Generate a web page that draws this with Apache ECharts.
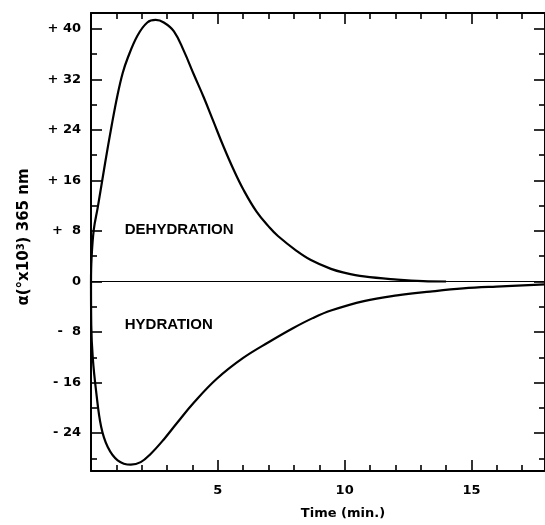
<!DOCTYPE html>
<html>
<head>
<meta charset="utf-8">
<script src="https://cdn.jsdelivr.net/npm/echarts@6/dist/echarts.min.js"></script>
<style>html,body{margin:0;padding:0;background:#fff}#c{width:545px;height:525px}</style>
</head>
<body>
<div id="c"></div>
<script>
// Dehydration curve (time in min, alpha x10^3)
var dehydT = [0, 0.02, 0.11, 0.27, 0.55, 0.82, 1.05, 1.25, 1.44, 1.83, 2.22, 2.55, 2.87, 3.27, 3.66, 4.05, 4.44, 4.83, 5.22, 5.61, 6.0, 6.52, 7.05, 7.37, 8.09, 8.67, 9.46, 9.98, 10.76, 12.07, 13.1, 14.0];
var dehydY = [0, 3.5, 8.2, 11.8, 18.6, 24.8, 29.6, 33.0, 35.3, 38.9, 41.0, 41.4, 41.0, 39.6, 36.5, 32.8, 29.2, 25.3, 21.4, 17.8, 14.6, 11.1, 8.5, 7.2, 4.9, 3.4, 2.0, 1.4, 0.8, 0.3, 0.05, 0];
// Hydration curve
var hydT = [0, 0.01, 0.07, 0.2, 0.4, 0.66, 1.05, 1.57, 1.96, 2.35, 2.87, 3.39, 4.05, 4.96, 6.0, 7.05, 7.96, 8.74, 9.46, 10.76, 12.07, 13.37, 14.67, 15.98, 17.9];
var hydY = [0, -6.9, -12.1, -17.3, -23.0, -26.2, -28.3, -29.0, -28.6, -27.3, -25.0, -22.4, -19.2, -15.4, -12.1, -9.5, -7.4, -5.8, -4.6, -3.1, -2.2, -1.6, -1.1, -0.8, -0.45];
// Axis ticks and labels
var xMajor = [5, 10, 15];
var xMinor = [1, 2, 3, 4, 6, 7, 8, 9, 11, 12, 13, 14, 16, 17];
var yMajor = [-24, -16, -8, 0, 8, 16, 24, 32, 40];
var yMajorLabels = ['- 24', '- 16', '-  8', '0', '+  8', '+ 16', '+ 24', '+ 32', '+ 40'];
var yMinor = [-28, -20, -12, -4, 4, 12, 20, 28, 36];
// Annotations
var annoText = ['DEHYDRATION', 'HYDRATION'];
var annoT = [1.33, 1.33];
var annoY = [8.2, -6.85];

function zip(a, b) { return a.map(function (v, i) { return [v, b[i]]; }); }

var X_MIN = 0, X_MAX = 17.9, Y_MIN = -30, Y_MAX = 42.5;
var black = '#000';
var FONT = 'DejaVu Sans';

function xAx(pos, vals, len, line, labels) {
  return {
    type: 'value', position: pos, min: X_MIN, max: X_MAX,
    axisLine: { show: line, onZero: false, lineStyle: { color: black, width: 2 } },
    axisTick: { show: true, inside: true, length: len, customValues: vals, lineStyle: { color: black, width: 1.6 } },
    axisLabel: labels ? { show: true, customValues: xMajor, margin: 13, color: black, fontFamily: FONT, fontWeight: 'bold', fontSize: 13 } : { show: false },
    splitLine: { show: false }
  };
}
function yAx(pos, vals, len, line, labels) {
  return {
    type: 'value', position: pos, min: Y_MIN, max: Y_MAX,
    axisLine: { show: line, onZero: false, lineStyle: { color: black, width: 2 } },
    axisTick: { show: true, inside: true, length: len, customValues: vals, lineStyle: { color: black, width: 1.6 } },
    axisLabel: labels ? {
      show: true, customValues: yMajor, margin: 10, color: black, fontFamily: FONT, fontWeight: 'bold', fontSize: 13,
      formatter: function (v) { var i = yMajor.indexOf(Math.round(v)); return i >= 0 ? yMajorLabels[i] : ''; }
    } : { show: false },
    splitLine: { show: false }
  };
}

var xAxes = [
  xAx('bottom', xMajor, 11, true, true),
  xAx('bottom', xMinor, 6, false, false),
  xAx('top', xMajor, 11, true, false),
  xAx('top', xMinor, 6, false, false)
];
xAxes[0].name = 'Time (min.)';
xAxes[0].nameLocation = 'middle';
xAxes[0].nameGap = 36;
xAxes[0].nameTextStyle = { color: black, fontFamily: FONT, fontWeight: 'bold', fontSize: 13, padding: [0, 0, 0, 50] };

var yAxes = [
  yAx('left', yMajor, 11, true, true),
  yAx('left', yMinor, 6, false, false),
  yAx('right', yMajor, 11, true, false),
  yAx('right', yMinor, 6, false, false)
];
yAxes[0].name = '{a|α(°x10}{s|3}{a|) 365 nm}';
yAxes[0].nameLocation = 'middle';
yAxes[0].nameGap = 58;
yAxes[0].nameRotate = 90;
yAxes[0].nameTextStyle = {
  padding: [0, 0, 0, 10],
  rich: {
    a: { color: black, fontFamily: FONT, fontWeight: 'bold', fontSize: 15 },
    s: { color: black, fontFamily: FONT, fontWeight: 'bold', fontSize: 10, verticalAlign: 'bottom', padding: [0, 0, 7, 0] }
  }
};

var chart = echarts.init(document.getElementById('c'), null, { renderer: 'canvas' });
chart.setOption({
  animation: false,
  backgroundColor: '#fff',
  grid: { left: 91, top: 13, width: 458, height: 465, containLabel: false },
  xAxis: xAxes,
  yAxis: yAxes,
  series: [
    {
      type: 'line', name: 'Dehydration', data: zip(dehydT, dehydY),
      showSymbol: false, smooth: 0.4,
      lineStyle: { color: black, width: 2.2 },
      markLine: {
        silent: true, symbol: ['none', 'none'], label: { show: false },
        lineStyle: { color: black, width: 1.2, type: 'solid' },
        data: [{ yAxis: 0 }]
      }
    },
    {
      type: 'line', name: 'Hydration', data: zip(hydT, hydY),
      showSymbol: false, smooth: 0.4,
      lineStyle: { color: black, width: 2.2 }
    },
    {
      type: 'scatter', symbolSize: 0, silent: true,
      itemStyle: { opacity: 1, color: black },
      data: annoText.map(function (t, i) { return { name: t, value: [annoT[i], annoY[i]] }; }),
      label: {
        show: true, position: 'right', distance: 0, formatter: '{b}', opacity: 1,
        color: black, fontFamily: 'Liberation Sans', fontWeight: 'bold', fontSize: 15
      }
    }
  ]
});
</script>
</body>
</html>
